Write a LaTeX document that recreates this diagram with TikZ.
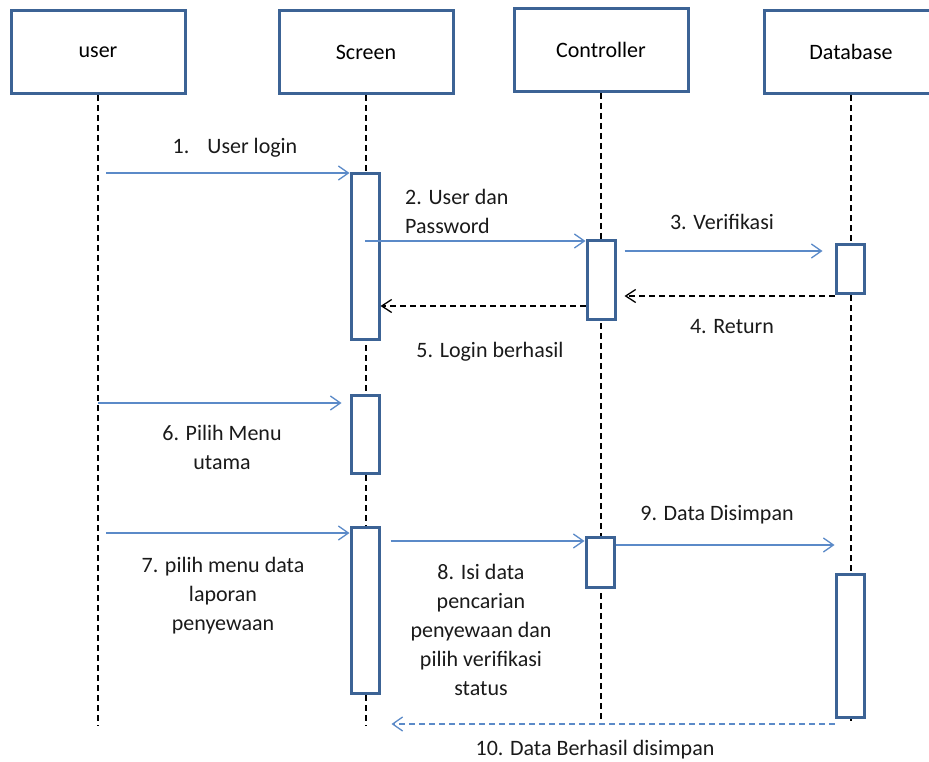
\documentclass[tikz,border=0pt]{standalone}
\usepackage{fontspec}
\setmainfont{Carlito}
\usetikzlibrary{arrows.meta}
\definecolor{boxblue}{HTML}{3C6395}
\definecolor{msgblue}{HTML}{5B8AC8}
\definecolor{txtgray}{HTML}{1A1A1A}
\tikzset{
  obj/.style={draw=boxblue,line width=3pt,minimum width=174pt,minimum height=83pt,inner sep=0pt,font=\fontsize{22}{26}\selectfont},
  act/.style={draw=boxblue,line width=3pt,fill=white,minimum width=28pt,inner sep=0pt,anchor=north},
  life/.style={line width=1.4pt,dash pattern=on 6pt off 4pt},
  msg/.style={draw=msgblue,line width=1.3pt,-{Straight Barb[length=10pt,width=14pt,line width=1.3pt]}},
  ret/.style={draw=black,line width=1.3pt,dash pattern=on 6pt off 4pt,-{Straight Barb[length=10pt,width=13pt,line width=1.3pt]}},
  lbl/.style={text=txtgray,align=center,inner sep=0pt,font=\fontsize{22}{29}\selectfont}
}
\begin{document}
\begin{tikzpicture}[x=1pt,y=-1pt]
\useasboundingbox (0,0) rectangle (929,762);

% objects
\node[obj] (user) at (98,52) {user};
\node[obj] (screen) at (366,52) {Screen};
\node[obj] (ctrl) at (601,50) {\raisebox{-3pt}{Controller}};
\node[obj] (db) at (851,52) {\raisebox{-3pt}{Database}};

% lifelines
\foreach \o/\e in {user/726,screen/726,ctrl/723,db/721}{
\draw[life] (\o.south) -- (\o.south |- 0,\e);
}

% activations
\node[act,minimum height=166pt] (s1) at (365,172) {};
\node[act,minimum height=79pt] (c1) at (601,239) {};
\node[act,minimum height=49pt] (d1) at (850,243) {};
\node[act,minimum height=78pt] (s2) at (365,394) {};
\node[act,minimum height=166pt] (s3) at (365,526) {};
\node[act,minimum height=50pt] (c2) at (600,536) {};
\node[act,minimum height=143pt] (d2) at (850,573) {};

% messages
\draw[msg,shorten <=8pt] (user.south |- 0,173) -- (s1.west |- 0,173);
\draw[msg] (s1.center |- 0,241) -- (c1.west |- 0,241);
\draw[msg,shorten <=8pt,shorten >=12pt] (c1.east |- 0,251) -- (d1.west |- 0,251);
\draw[ret,shorten >=8pt] (d1.west |- 0,296) -- (c1.east |- 0,296);
\draw[ret] (c1.west |- 0,306) -- (s1.east |- 0,306);
\draw[msg,shorten >=8pt] (user.south |- 0,403) -- (s2.west |- 0,403);
\draw[msg,shorten <=8pt] (user.south |- 0,533) -- (s3.west |- 0,533);
\draw[msg,shorten <=10pt] (s3.east |- 0,541) -- (c2.west |- 0,541);
\draw[msg] (c2.east |- 0,545) -- (d2.west |- 0,545);
\draw[msg,dash pattern=on 6pt off 4pt,shorten >=11pt] (d2.west |- 0,724) -- (s3.east |- 0,724);

% labels
\node[lbl] (l1) at (235,148) {1.\hspace{18pt}User login};
\node[lbl,align=left,anchor=west] (l2) at (405,211) {2. User dan\\Password};
\node[lbl] (l3) at (722,222) {3. Verifikasi};
\node[lbl] (l4) at (732,327) {4. Return};
\node[lbl] (l5) at (490,352) {5. Login berhasil};
\node[lbl] (l6) at (222,447) {6. Pilih Menu\\utama};
\node[lbl] (l7) at (223,596) {7. pilih menu data\\laporan\\penyewaan};
\node[lbl] (l8) at (481,630) {8. Isi data\\pencarian\\penyewaan dan\\pilih verifikasi\\status};
\node[lbl] (l9) at (717,515) {9. Data Disimpan};
\node[lbl] (l10) at (595,750) {10. Data Berhasil disimpan};
\end{tikzpicture}
\end{document}
